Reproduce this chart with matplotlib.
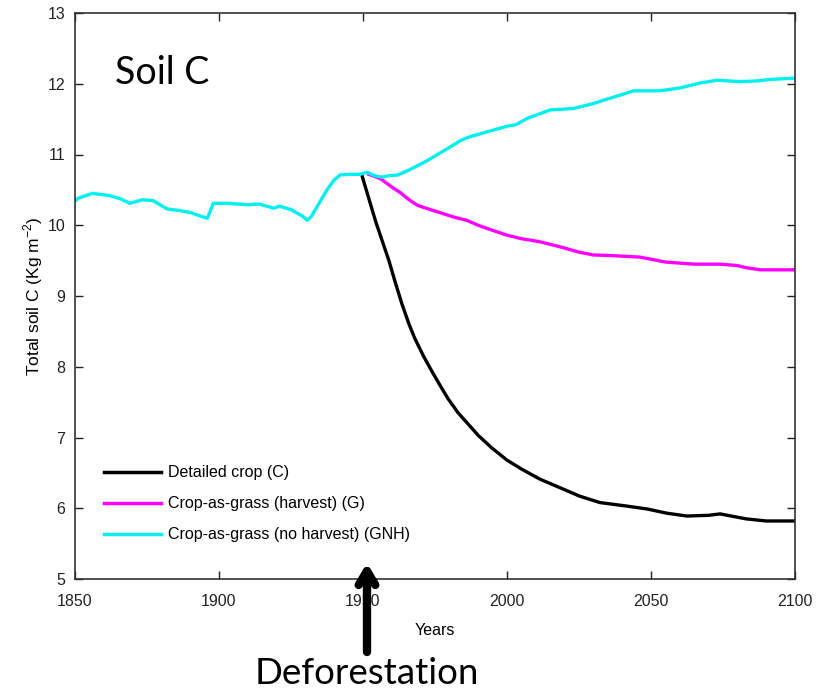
import matplotlib
matplotlib.use('Agg')
import matplotlib.pyplot as plt

# soil carbon, grass without harvest (shared historical run up to ~1950)
gnh_years = [1850, 1851, 1856, 1860, 1862, 1866, 1869, 1873.5, 1877, 1882,
             1886, 1890, 1895, 1896, 1898, 1903, 1910, 1914, 1919, 1921,
             1925, 1929, 1930.6, 1932, 1934, 1937.5, 1940, 1942, 1945, 1949,
             1951.4, 1954, 1956.6, 1959, 1962, 1966, 1972.6, 1980, 1984,
             1987, 1994, 2000, 2003, 2007, 2015, 2023, 2030, 2033, 2037,
             2044, 2053, 2060, 2067, 2073, 2081, 2087, 2091, 2100]
gnh_vals = [10.34, 10.38, 10.45, 10.43, 10.42, 10.37, 10.31, 10.36, 10.35,
            10.23, 10.21, 10.18, 10.11, 10.10, 10.31, 10.31, 10.29, 10.30,
            10.24, 10.27, 10.22, 10.13, 10.07, 10.12, 10.26, 10.50, 10.64,
            10.71, 10.72, 10.72, 10.75, 10.70, 10.68, 10.70, 10.71, 10.78,
            10.92, 11.10, 11.20, 11.25, 11.33, 11.40, 11.42, 11.51, 11.63,
            11.65, 11.72, 11.76, 11.81, 11.90, 11.90, 11.94, 12.01, 12.05,
            12.03, 12.04, 12.06, 12.08]

# grass with harvest
g_years = [1952, 1956, 1960, 1963, 1966, 1969, 1975, 1982, 1986, 1990,
           1993.4, 2000, 2005, 2011, 2018, 2025, 2030, 2037, 2046, 2050,
           2055, 2065, 2074, 2080, 2083, 2088, 2100]
g_vals = [10.72, 10.66, 10.54, 10.46, 10.36, 10.28, 10.20, 10.11, 10.07,
          10.00, 9.95, 9.86, 9.81, 9.77, 9.70, 9.62, 9.58, 9.57, 9.55, 9.52,
          9.48, 9.45, 9.45, 9.43, 9.40, 9.37, 9.37]

# detailed crop
c_years = [1949.6, 1952, 1954.5, 1957, 1959, 1961, 1963.5, 1966, 1968, 1971,
           1974, 1977, 1979.5, 1983, 1986.5, 1990, 1994.8, 2000, 2005.2,
           2011.5, 2018.4, 2025.3, 2032.3, 2041.7, 2048.6, 2055.5, 2062.5,
           2070, 2074, 2083, 2090, 2100]
c_vals = [10.71, 10.38, 10.04, 9.74, 9.50, 9.22, 8.89, 8.60, 8.40, 8.15,
          7.93, 7.72, 7.55, 7.35, 7.19, 7.03, 6.85, 6.68, 6.55, 6.41, 6.29,
          6.17, 6.08, 6.03, 5.99, 5.93, 5.89, 5.90, 5.92, 5.85, 5.82, 5.82]

labels = ['Detailed crop (C)', 'Crop-as-grass (harvest) (G)',
          'Crop-as-grass (no harvest) (GNH)']

x_ticks = [1850, 1900, 1950, 2000, 2050, 2100]
y_ticks = [5, 6, 7, 8, 9, 10, 11, 12, 13]

plt.rcParams['font.family'] = ['Liberation Sans', 'DejaVu Sans']

fig = plt.figure(figsize=(8.2, 6.92), dpi=100)
ax = fig.add_axes([75 / 820, 1 - 579 / 692, 720 / 820, 566 / 692])

ax.plot(c_years, c_vals, color='black', lw=2.4, label=labels[0])
ax.plot(g_years, g_vals, color='#ff00ff', lw=2.4, label=labels[1])
ax.plot(gnh_years, gnh_vals, color='#00f0f0', lw=2.4, label=labels[2])

ax.set_xlim(1850, 2100)
ax.set_ylim(5, 13)
ax.set_xticks(x_ticks)
ax.set_yticks(y_ticks)
ax.tick_params(direction='in', top=True, right=True, length=6, width=1,
               labelsize=11.5, colors='#222222')
ax.tick_params(axis='x', pad=11)
ax.tick_params(axis='y', pad=7)
for s in ax.spines.values():
    s.set_color('#333333')
    s.set_linewidth(1.2)

ax.set_xlabel('Years', fontsize=11.5, labelpad=10)
ax.set_ylabel('Total soil C (Kg m$^{\\mathregular{-2}}$)', fontsize=12.5,
              labelpad=2)

leg = ax.legend(loc='upper left', bbox_to_anchor=(0.02, 0.226),
                frameon=False, fontsize=11.5, handlelength=3.6,
                handletextpad=0.45, labelspacing=1.0)
for h in leg.get_lines():
    h.set_linewidth(2.5)

ax.text(1864, 12.0, 'Soil C', family='Lato', fontsize=27, va='baseline')

fig.text(367 / 820, 1 - 684 / 692, 'Deforestation', family='Lato',
         fontsize=26.5, ha='center', va='baseline')
ax.annotate('', xy=(367 / 820, 1 - 563 / 692), xycoords='figure fraction',
            xytext=(367 / 820, 1 - 652 / 692), textcoords='figure fraction',
            arrowprops=dict(arrowstyle='->,head_length=1.0,head_width=0.6',
                            lw=6, color='black', shrinkA=0, shrinkB=0),
            annotation_clip=False)

fig.savefig('out.png', dpi=100)
